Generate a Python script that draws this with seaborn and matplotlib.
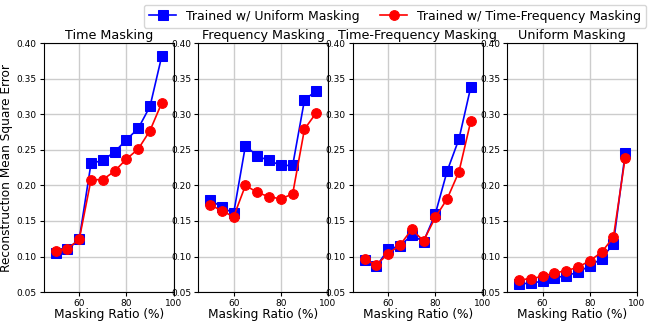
import numpy as np
import pandas as pd
import matplotlib
matplotlib.use("Agg")
import matplotlib.pyplot as plt
import seaborn as sns

ratios = [50, 55, 60, 65, 70, 75, 80, 85, 90, 95]
titles = ["Time Masking", "Frequency Masking", "Time-Frequency Masking", "Uniform Masking"]

uniform_time = [0.105, 0.110, 0.124, 0.231, 0.235, 0.247, 0.264, 0.280, 0.311, 0.382]
tf_time = [0.108, 0.111, 0.124, 0.208, 0.208, 0.220, 0.237, 0.251, 0.277, 0.316]

uniform_freq = [0.180, 0.169, 0.161, 0.256, 0.241, 0.235, 0.228, 0.228, 0.320, 0.333]
tf_freq = [0.173, 0.164, 0.156, 0.200, 0.190, 0.184, 0.181, 0.188, 0.279, 0.302]

uniform_tf = [0.095, 0.086, 0.110, 0.115, 0.130, 0.121, 0.160, 0.220, 0.265, 0.338]
tf_tf = [0.096, 0.088, 0.104, 0.116, 0.138, 0.122, 0.155, 0.181, 0.219, 0.290]

uniform_uni = [0.061, 0.063, 0.065, 0.070, 0.073, 0.078, 0.087, 0.097, 0.118, 0.245]
tf_uni = [0.067, 0.069, 0.072, 0.077, 0.080, 0.085, 0.094, 0.106, 0.127, 0.239]

uniform_all = [uniform_time, uniform_freq, uniform_tf, uniform_uni]
tf_all = [tf_time, tf_freq, tf_tf, tf_uni]

fig, axes = plt.subplots(1, 4, figsize=(6.54, 3.26), dpi=100)
fig.subplots_adjust(left=0.067, right=0.974, top=0.868, bottom=0.104, wspace=0.19)

for ax, title, u, t in zip(axes, titles, uniform_all, tf_all):
    sns.lineplot(x=ratios, y=u, ax=ax, color="blue", marker="s", markersize=7,
                 markeredgecolor="blue", linewidth=1.2, label="Trained w/ Uniform Masking", legend=False)
    sns.lineplot(x=ratios, y=t, ax=ax, color="red", marker="o", markersize=7,
                 markeredgecolor="red", linewidth=1.2, label="Trained w/ Time-Frequency Masking", legend=False)
    ax.set_xlim(45, 100)
    ax.set_ylim(0.05, 0.40)
    ax.set_xticks([60, 80, 100])
    ax.set_yticks(np.arange(0.05, 0.401, 0.05))
    ax.tick_params(labelsize=6.5, length=3, pad=2)
    ax.grid(True, color="#cccccc", linewidth=1)
    ax.set_axisbelow(True)
    ax.set_title(title, fontsize=9.2, pad=3)
    ax.set_xlabel("Masking Ratio (%)", fontsize=8.7, labelpad=0)

axes[0].set_ylabel("Reconstruction Mean Square Error", fontsize=8.7, labelpad=3)

handles, labels = axes[0].get_legend_handles_labels()
fig.legend(handles, labels, loc="upper right", bbox_to_anchor=(0.998, 1.005), ncol=2,
           fontsize=9, handlelength=2.2, columnspacing=1.6, borderpad=0.4)

fig.savefig("out.png", dpi=100)
